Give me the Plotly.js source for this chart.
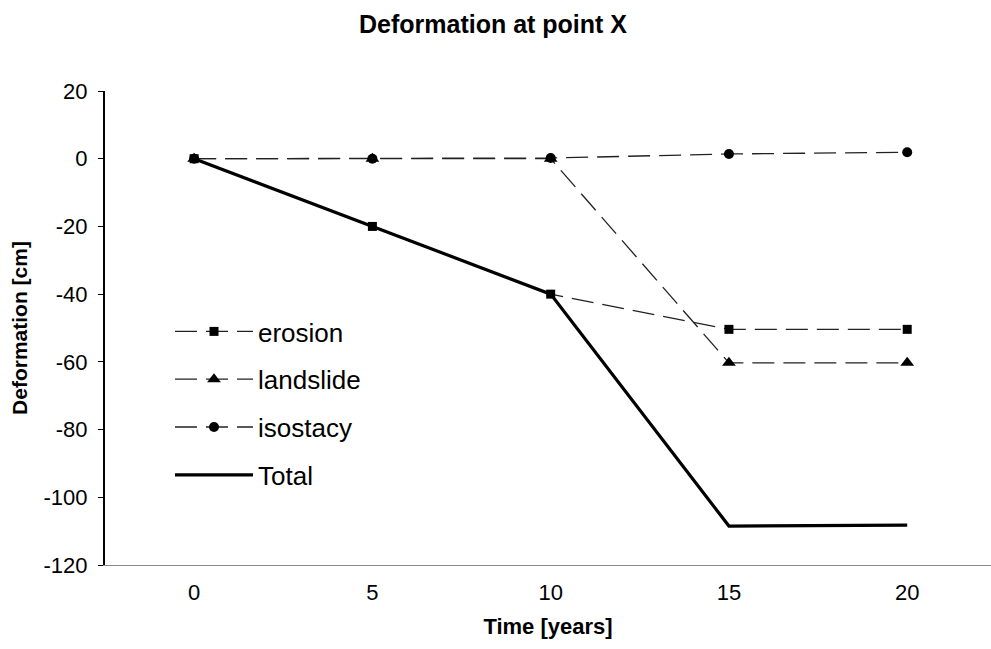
<!DOCTYPE html>
<html>
<head>
<meta charset="utf-8">
<script src="https://cdn.plot.ly/plotly-3.0.1.min.js"></script>
<style>html,body{margin:0;padding:0;background:#fff;}#chart{width:991px;height:649px;}</style>
</head>
<body>
<div id="chart"></div>
<script>
const timeYears = ["0", "5", "10", "15", "20"];
const erosion = [0, -20, -40, -50.4, -50.4];
const landslide = [0, 0, 0, -60.3, -60.3];
const isostacy = [0, 0, 0.2, 1.4, 1.9];
const total = [0, -20, -40, -108.5, -108.2];
const yTicks = [20, 0, -20, -40, -60, -80, -100, -120];

const FONT = "Liberation Sans, Arial, sans-serif";
const dashed = {color: "#222", width: 1.3, dash: "22px,9px"};

const traces = [
  {x: timeYears, y: erosion, name: "erosion", mode: "lines+markers", legendgroup: "a",
   line: dashed, marker: {symbol: "square", size: 9, color: "#000"}},
  {x: timeYears, y: landslide, name: "landslide", mode: "lines+markers", legendgroup: "b",
   line: dashed, marker: {symbol: "triangle-up", size: 12, color: "#000"}},
  {x: timeYears, y: isostacy, name: "isostacy", mode: "lines+markers", legendgroup: "c",
   line: dashed, marker: {symbol: "circle", size: 10, color: "#000"}},
  {x: timeYears, y: total, name: "Total", mode: "lines", legendgroup: "d",
   line: {color: "#000", width: 3.2}}
];

const layout = {
  width: 991, height: 649,
  margin: {l: 105, r: 0, t: 91, b: 84},
  paper_bgcolor: "#fff", plot_bgcolor: "#fff",
  font: {family: FONT, color: "#000"},
  title: {text: "<b>Deformation at point X</b>", font: {family: FONT, size: 25, color: "#000"},
          x: 493 / 991, xanchor: "center", y: 1 - 24 / 649, yanchor: "middle"},
  xaxis: {
    type: "category", range: [-0.5, 4.47],
    showgrid: false, zeroline: false,
    showline: true, linecolor: "#888", linewidth: 1,
    ticks: "", tickfont: {family: FONT, size: 22, color: "#000"},
    ticklabelstandoff: 8,
    title: {text: "<b>Time [years]</b>", font: {family: FONT, size: 22, color: "#000"}, standoff: 14}
  },
  yaxis: {
    range: [-120, 20], tickvals: yTicks, ticktext: yTicks.map(String),
    showgrid: false, zeroline: false,
    showline: true, linecolor: "#000", linewidth: 2,
    ticks: "outside", ticklen: 5, tickwidth: 1, tickcolor: "#000",
    tickfont: {family: FONT, size: 22, color: "#000"},
    ticklabelstandoff: 6,
    title: {text: "<b>Deformation [cm]</b>", font: {family: FONT, size: 21, color: "#000"}, standoff: 10}
  },
  showlegend: true,
  legend: {
    x: (170 - 105) / 886, xanchor: "left",
    y: (565 - 308) / 474, yanchor: "top",
    bgcolor: "rgba(0,0,0,0)", borderwidth: 0,
    font: {family: FONT, size: 26, color: "#000"},
    traceorder: "grouped", tracegroupgap: 11,
    itemwidth: 78
  }
};

Plotly.newPlot("chart", traces, layout, {displayModeBar: false, staticPlot: true});
</script>
</body>
</html>
